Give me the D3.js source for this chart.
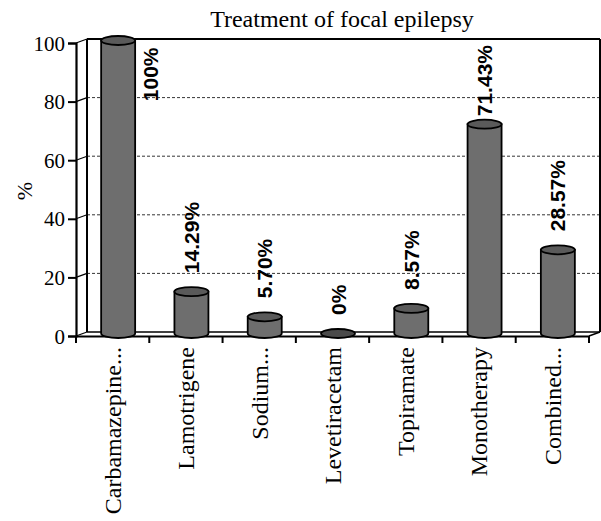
<!DOCTYPE html>
<html><head><meta charset="utf-8">
<script src="https://cdn.jsdelivr.net/npm/d3@7"></script>
<style>body{margin:0;background:#fff}svg{display:block}</style>
</head><body>
<script>
const categories = ["Carbamazepine...", "Lamotrigene", "Sodium...", "Levetiracetam", "Topiramate", "Monotherapy", "Combined..."];
const values = [100, 14.29, 5.70, 0, 8.57, 71.43, 28.57];
const valueLabels = ["100%", "14.29%", "5.70%", "0%", "8.57%", "71.43%", "28.57%"];
const yTicks = [0, 20, 40, 60, 80, 100];
const title = "Treatment of focal epilepsy";
const yTitle = "%";

const W = 601, H = 521;
const DX = 11, DY = -4; // depth offset of back wall
const svg = d3.select("body").append("svg").attr("width", W).attr("height", H);

const x = d3.scaleBand().domain(categories).range([76, 589]);
const yF = d3.scaleLinear().domain([0, 100]).range([336, 43]);
const yB = v => yF(v) + DY;
const yM = v => yF(v) + DY / 2 - 0.5;
const serif = "'Liberation Serif','Times New Roman',serif";
const sans = "'Liberation Sans',Arial,sans-serif";

// back wall gridlines (dashed)
svg.append("g").selectAll("line").data(yTicks.filter(t => t > 0 && t < 100)).join("line")
  .attr("x1", 76 + DX).attr("x2", 589 + DX)
  .attr("y1", d => yB(d)).attr("y2", d => yB(d))
  .attr("stroke", "#000").attr("stroke-width", 0.8).attr("stroke-dasharray", "3,2");

// walls frame
const frame = svg.append("g").attr("stroke", "#000").attr("fill", "none");
frame.append("line").attr("x1", 76 + DX).attr("x2", 589 + DX).attr("y1", yB(100)).attr("y2", yB(100)).attr("stroke-width", 2);
frame.append("line").attr("x1", 589 + DX).attr("x2", 589 + DX).attr("y1", yB(100)).attr("y2", yB(0)).attr("stroke-width", 2);
frame.append("line").attr("x1", 76 + DX).attr("x2", 76 + DX).attr("y1", yB(100)).attr("y2", yB(0)).attr("stroke-width", 2);
frame.append("line").attr("x1", 76 + DX).attr("x2", 589 + DX).attr("y1", yB(0)).attr("y2", yB(0)).attr("stroke-width", 1.5);
frame.append("line").attr("x1", 589).attr("x2", 589 + DX).attr("y1", yF(0)).attr("y2", yB(0)).attr("stroke-width", 1.5);

// y axis: slanted tick connectors
frame.selectAll(".slant").data(yTicks).join("line")
  .attr("x1", 76).attr("x2", 76 + DX).attr("y1", d => yF(d)).attr("y2", d => yB(d)).attr("stroke-width", 1.2);

// y axis with D3
const yAxis = d3.axisLeft(yF).tickValues(yTicks).tickSize(8).tickPadding(3).tickFormat(d3.format("d"));
const gy = svg.append("g").attr("transform", "translate(76,0)").call(yAxis);
gy.select(".domain").attr("stroke-width", 2.2);
gy.selectAll(".tick line").attr("stroke-width", 2);
gy.selectAll("text").attr("font-family", serif).attr("font-size", 21).attr("fill", "#000").attr("dy", "0.34em");

// x axis
const xAxis = d3.axisBottom(x).tickSize(0).tickFormat("");
const gx = svg.append("g").attr("transform", `translate(0,${yF(0)})`).call(xAxis);
gx.select(".domain").attr("stroke-width", 2.2);
gx.selectAll(".tick").remove();
const bounds = categories.map(c => x(c)).concat([x.range()[1]]);
gx.selectAll(".sep").data(bounds).join("line")
  .attr("x1", d => d).attr("x2", d => d).attr("y1", 0).attr("y2", 7)
  .attr("stroke", "#000").attr("stroke-width", 2);

// category labels
svg.append("g").selectAll("text").data(categories).join("text")
  .attr("transform", d => `translate(${x(d) + x.bandwidth() / 2},347) rotate(-90)`)
  .attr("text-anchor", "end").attr("dy", "0.35em")
  .attr("font-family", serif).attr("font-size", 24).attr("fill", "#000")
  .text(d => d);

// cylinders
const R = 17, RY = 4.5, OFF = DX / 2;
const data = categories.map((c, i) => ({ c, v: values[i], lab: valueLabels[i] }));
const bars = svg.append("g").selectAll("g").data(data).join("g");
bars.each(function (d) {
  const g = d3.select(this);
  const cx = x(d.c) + x.bandwidth() / 2 + OFF;
  const yb = yM(0), yt = yM(d.v);
  if (d.v > 0) {
    g.append("path")
      .attr("d", `M${cx - R},${yt} L${cx - R},${yb} A${R},${RY} 0 0 0 ${cx + R},${yb} L${cx + R},${yt} Z`)
      .attr("fill", "#6e6e6e").attr("stroke", "#000").attr("stroke-width", 1.8);
  }
  g.append("ellipse").attr("cx", cx).attr("cy", yt).attr("rx", R).attr("ry", RY)
    .attr("fill", d.v > 0 ? "#5a5a5a" : "#4a4a4a").attr("stroke", "#000").attr("stroke-width", 1.8);
  d.cx = cx; d.yt = yt;
});

// value labels
const plotTop = yB(100);
svg.append("g").selectAll("text").data(data).join("text")
  .attr("font-family", sans).attr("font-weight", "bold").attr("font-size", 21).attr("fill", "#000")
  .attr("dy", "0.36em")
  .each(function (d) {
    const t = d3.select(this).text(d.lab);
    const len = this.getComputedTextLength();
    const ellTop = d.yt - RY;
    let bottom = ellTop - 14;
    if (bottom - len < plotTop + 6) bottom = plotTop + 6 + len;
    if (bottom > ellTop + 2) {
      t.attr("text-anchor", "end").attr("transform", `translate(${d.cx + 32},${d.yt + 7}) rotate(-90)`);
    } else {
      t.attr("text-anchor", "start").attr("transform", `translate(${d.cx},${bottom}) rotate(-90)`);
    }
  });

// titles
svg.append("text").attr("x", 342).attr("y", 27).attr("text-anchor", "middle")
  .attr("font-family", serif).attr("font-size", 24).attr("fill", "#000").text(title);
svg.append("text").attr("transform", "translate(24,191) rotate(-90)").attr("text-anchor", "middle").attr("dy", "0.35em")
  .attr("font-family", serif).attr("font-size", 22).attr("fill", "#000").text(yTitle);
</script>
</body></html>
